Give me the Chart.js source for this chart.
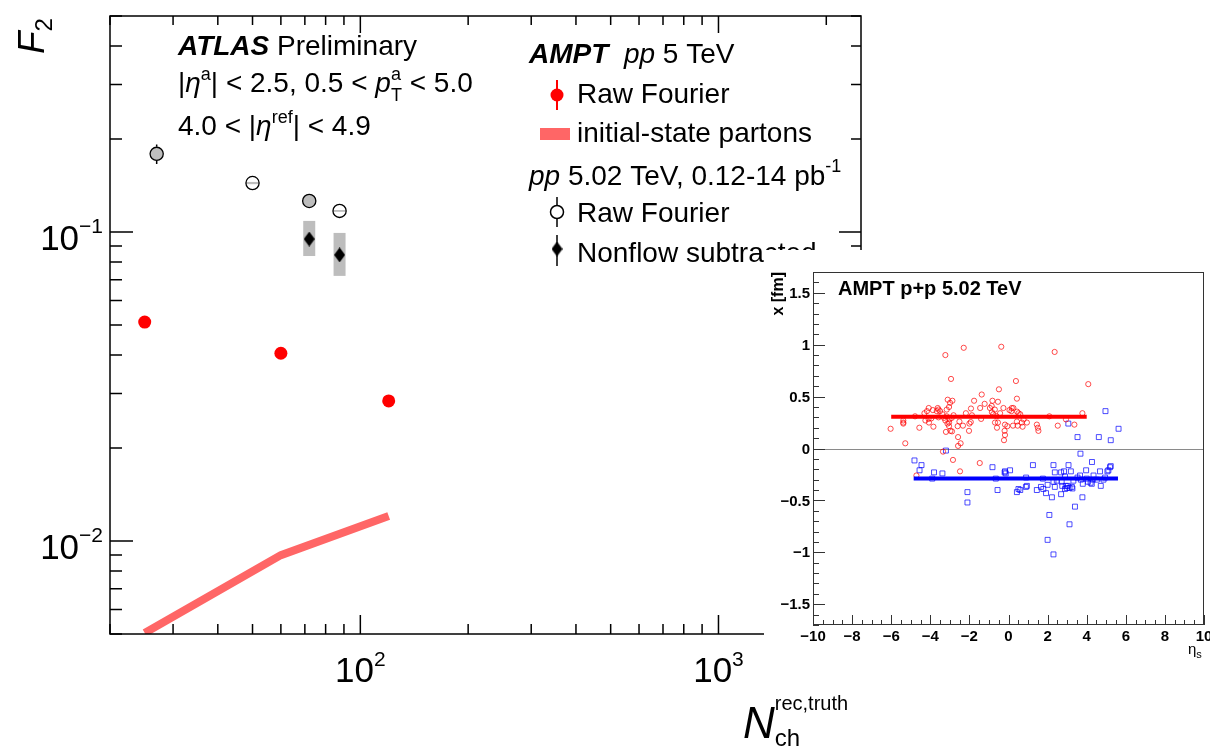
<!DOCTYPE html>
<html>
<head>
<meta charset="utf-8">
<script src="https://cdn.jsdelivr.net/npm/chart.js@4.4.0/dist/chart.umd.min.js"></script>
<style>
  body { margin: 0; background: #fff; }
  #wrap { position: relative; width: 1210px; height: 748px; overflow: hidden; }
  #main { position: absolute; left: 0; top: 0; }
  #inset { position: absolute; left: 764px; top: 250px; background: #fff; }
</style>
</head>
<body>
<div id="wrap">
  <canvas id="main" width="1210" height="748"></canvas>
  <canvas id="inset" width="446" height="420"></canvas>
</div>
<script>
// ---- main panel data (F2 vs Nch) ----
const amptN = [25, 60, 120];
const amptRaw = [0.0511, 0.0405, 0.0284];
const partonsF2 = [0.00504, 0.0090, 0.01205];

const atlasN = [27, 50, 72, 87.5];
const atlasRaw = [0.179, 0.144, 0.126, 0.117];
const atlasRawErrLo = [0.166, 0.142, 0.124, 0.1155];
const atlasRawErrHi = [0.192, 0.146, 0.128, 0.1185];
const atlasRawSysLo = [0.165, 0.1428, 0.118, 0.1162];
const atlasRawSysHi = [0.195, 0.1452, 0.134, 0.1178];

const atlasSubN = [72, 87.5];
const atlasSub = [0.0949, 0.0843];
const atlasSubSysLo = [0.0836, 0.0721];
const atlasSubSysHi = [0.1086, 0.0993];

const nchRange = [20, 2500];
const f2Range = [0.005, 0.5];
const xLabelTicks = [100, 1000];
const yLabelTicks = [0.01, 0.1];

// ---- inset data (x vs eta_s) ----
const redEta = [-6.03, -5.38, -5.38, -5.38, -5.28, -4.78, -4.71, -4.56, -4.30, -4.25,
  -4.17, -4.09, -4.08, -4.07, -3.95, -3.87, -3.84, -3.67, -3.62, -3.58, -3.58, -3.50,
  -3.38, -3.35, -3.30, -3.23, -3.23, -3.20, -3.16, -3.16, -3.12, -3.11, -3.04, -3.04,
  -3.04, -3.02, -2.99, -2.97, -2.94, -2.90, -2.89, -2.87, -2.84, -2.81, -2.60, -2.58,
  -2.58, -2.51, -2.48, -2.45, -2.33, -2.29, -2.18, -2.02, -2.00, -1.93, -1.92, -1.87,
  -1.76, -1.47, -1.45, -1.40, -1.37, -1.22, -0.95, -0.86, -0.85, -0.82, -0.78, -0.70,
  -0.69, -0.61, -0.59, -0.54, -0.54, -0.49, -0.43, -0.37, -0.26, -0.23, -0.20, -0.18,
  -0.18, -0.06, 0.05, 0.15, 0.17, 0.23, 0.25, 0.38, 0.43, 0.43, 0.44, 0.47, 0.51, 0.60,
  0.68, 0.72, 0.77, 0.94, 1.45, 1.50, 1.53, 2.09, 2.36, 2.52, 2.94, 3.37, 3.78, 4.08];
const redX = [0.19, 0.27, 0.25, 0.24, 0.05, 0.31, -0.26, 0.20, 0.34, 0.27,
  0.36, 0.285, 0.39, 0.25, 0.29, 0.37, 0.21, 0.36, 0.39, 0.375, 0.30, 0.36,
  0.33, -0.03, 0.295, 0.90, 0.27, 0.16, 0.375, 0.31, 0.24, 0.47, 0.40, 0.215,
  0.25, 0.28, 0.44, 0.17, 0.67, 0.295, 0.165, 0.46, -0.11, 0.32, 0.215, 0.11,
  0.025, 0.26, -0.22, 0.05, 0.22, 0.97, 0.34, 0.17, 0.24, 0.255, 0.385, 0.32,
  0.46, -0.14, 0.39, 0.285, 0.52, 0.43, 0.39, 0.41, 0.35, 0.46, 0.33, 0.375,
  0.25, 0.31, 0.20, 0.45, 0.25, 0.57, 0.34, 0.98, 0.39, 0.08, 0.17, 0.23,
  0.13, 0.215, 0.37, 0.36, 0.39, 0.22, 0.39, 0.65, 0.48, 0.26, 0.355, 0.22, 0.34, 0.33,
  0.25, 0.21, 0.28, 0.25, 0.23, 0.20, 0.17, 0.31, 0.93, 0.22, 0.28, 0.23, 0.34, 0.62];

const blueEta = [-4.81, -4.55, -4.45, -3.90, -3.81, -3.38, -3.20, -2.10, -2.10, -0.82,
  -0.65, -0.56, -0.20, -0.18, -0.14, 0.08, 0.43, 0.51, 0.60, 0.89, 0.90, 0.94, 1.25,
  1.45, 1.66, 1.76, 1.78, 1.92, 2.00, 2.00, 2.09, 2.22, 2.30, 2.30, 2.30, 2.37, 2.37,
  2.47, 2.69, 2.69, 2.72, 2.75, 2.84, 2.89, 2.89, 2.93, 2.98, 3.04, 3.06, 3.07, 3.12,
  3.12, 3.19, 3.24, 3.27, 3.32, 3.40, 3.53, 3.53, 3.66, 3.68, 3.70, 3.78, 3.80, 3.97,
  4.00, 4.06, 4.20, 4.26, 4.27, 4.31, 4.35, 4.52, 4.62, 4.68, 4.72, 4.86, 4.94, 4.96,
  5.06, 5.11, 5.19, 5.23, 5.23, 5.63];
const blueX = [-0.115, -0.21, -0.16, -0.29, -0.23, -0.24, -0.02, -0.42, -0.52, -0.18,
  -0.29, -0.40, -0.23, -0.22, -0.24, -0.21, -0.42, -0.39, -0.40, -0.37, -0.28, -0.36, -0.16,
  -0.40, -0.37, -0.29, -0.39, -0.43, -0.35, -0.88, -0.64, -0.47, -0.16, -0.32, -1.02, -0.23, -0.37,
  -0.31, -0.23, -0.44, -0.32, -0.36, -0.22, -0.27, -0.39, -0.36, -0.38, -0.36, 0.24, -0.16, -0.38,
  -0.73, -0.22, -0.37, -0.385, -0.31, -0.56, 0.11, -0.28, -0.26, -0.05, -0.30, -0.47, -0.34, -0.21,
  -0.29, -0.32, -0.33, -0.34, -0.13, -0.30, -0.26, -0.30, 0.11, -0.22, -0.36, -0.30, -0.28, 0.36,
  -0.22, -0.21, -0.18, -0.17, 0.08, 0.19];

const redMeanEta = [-6.0, 4.0];
const redMean = 0.305;
const blueMeanEta = [-4.85, 5.6];
const blueMean = -0.29;
const etaRange = [-10, 10];
const xfmRange = [-1.7, 1.7];
const xfmLabels = [-1.5, -1, -0.5, 0, 0.5, 1, 1.5];
const etaLabels = [-10, -8, -6, -4, -2, 0, 2, 4, 6, 8, 10];

const FONT = '"Liberation Sans", Arial, Helvetica, sans-serif';

// draw a run of text pieces (sizes, styles, raised/lowered)
function drawParts(ctx, x, y, parts, dryRun) {
  let cx = x;
  for (const p of parts) {
    ctx.font = `${p.f || ''} ${p.s}px ${FONT}`;
    if (!dryRun) ctx.fillText(p.t, cx, y + (p.dy || 0));
    if (!p.keep) cx += ctx.measureText(p.t).width;
  }
  return cx - x;
}

function powerLabel(exp, big, small, rise) {
  return [{ t: '10', s: big }, { t: exp, s: small, dy: -rise }];
}

function makeDiamond(w, h, color) {
  const c = document.createElement('canvas');
  c.width = w; c.height = h;
  const g = c.getContext('2d');
  g.fillStyle = color;
  g.beginPath();
  g.moveTo(w / 2, 0); g.lineTo(w, h / 2); g.lineTo(w / 2, h); g.lineTo(0, h / 2);
  g.closePath();
  g.fill();
  return c;
}
const diamondImg = makeDiamond(11, 15, '#000');

// ---- main panel decorations ----
const mainDecor = {
  id: 'mainDecor',
  beforeDatasetsDraw(chart) {
    const { ctx, scales: { x, y } } = chart;
    ctx.save();
    ctx.fillStyle = '#bdbdbd';
    // systematic boxes of the nonflow subtracted points
    for (let i = 0; i < atlasSubN.length; i++) {
      const px = x.getPixelForValue(atlasSubN[i]);
      const top = y.getPixelForValue(atlasSubSysHi[i]);
      const bot = y.getPixelForValue(atlasSubSysLo[i]);
      ctx.fillRect(px - 6, top, 12, bot - top);
    }
    // systematic boxes of raw points, seen through the open markers
    for (let i = 0; i < atlasN.length; i++) {
      const px = x.getPixelForValue(atlasN[i]);
      const py = y.getPixelForValue(atlasRaw[i]);
      const top = y.getPixelForValue(atlasRawSysHi[i]);
      const bot = y.getPixelForValue(atlasRawSysLo[i]);
      ctx.save();
      ctx.beginPath();
      ctx.arc(px, py, 6.6, 0, Math.PI * 2);
      ctx.clip();
      ctx.fillRect(px - 7, top, 14, bot - top);
      ctx.restore();
    }
    ctx.restore();
  },
  afterDatasetsDraw(chart) {
    const { ctx, scales: { x, y } } = chart;
    ctx.save();
    ctx.strokeStyle = '#000';
    ctx.lineWidth = 1.5;
    ctx.beginPath();
    for (let i = 0; i < atlasN.length; i++) {
      const px = x.getPixelForValue(atlasN[i]);
      const py = y.getPixelForValue(atlasRaw[i]);
      const hi = y.getPixelForValue(atlasRawErrHi[i]);
      const lo = y.getPixelForValue(atlasRawErrLo[i]);
      if (hi < py - 7) { ctx.moveTo(px, hi); ctx.lineTo(px, py - 7); }
      if (lo > py + 7) { ctx.moveTo(px, py + 7); ctx.lineTo(px, lo); }
    }
    ctx.stroke();
    ctx.restore();
  },
  afterDraw(chart) {
    const { ctx, chartArea: { left, right, top, bottom }, scales: { x, y } } = chart;
    ctx.save();
    ctx.strokeStyle = '#000';
    ctx.fillStyle = '#000';
    ctx.lineWidth = 1.5;
    ctx.strokeRect(left, top, right - left, bottom - top);

    // log ticks, ROOT style (inside, all four sides)
    ctx.beginPath();
    for (let d = -3; d <= -1; d++) {
      for (let m = 1; m <= 9; m++) {
        const v = m * Math.pow(10, d);
        if (v < f2Range[0] * 0.999 || v > f2Range[1] * 1.001) continue;
        const py = y.getPixelForValue(v);
        ctx.moveTo(left, py); ctx.lineTo(left + (m === 1 ? 23 : 12), py);
        ctx.moveTo(right, py); ctx.lineTo(right - (m === 1 ? 22 : 10), py);
      }
    }
    for (let d = 1; d <= 3; d++) {
      for (let m = 1; m <= 9; m++) {
        const v = m * Math.pow(10, d);
        if (v < nchRange[0] * 0.999 || v > nchRange[1] * 1.001) continue;
        const px = x.getPixelForValue(v);
        ctx.moveTo(px, bottom); ctx.lineTo(px, bottom - (m === 1 ? 19 : 10));
        ctx.moveTo(px, top); ctx.lineTo(px, top + (m === 1 ? 17 : 9));
      }
    }
    ctx.stroke();

    // tick labels
    ctx.textAlign = 'left';
    ctx.textBaseline = 'alphabetic';
    for (const v of yLabelTicks) {
      const parts = powerLabel('\u2212' + Math.round(-Math.log10(v)), 35, 21, 17);
      const w = drawParts(ctx, 0, 0, parts, true);
      drawParts(ctx, 103 - w, y.getPixelForValue(v) + 18, parts);
    }
    for (const v of xLabelTicks) {
      const parts = powerLabel(String(Math.round(Math.log10(v))), 35, 21, 16);
      const w = drawParts(ctx, 0, 0, parts, true);
      drawParts(ctx, x.getPixelForValue(v) - w / 2, 682, parts);
    }

    // axis titles
    ctx.save();
    ctx.translate(44, 54);
    ctx.rotate(-Math.PI / 2);
    drawParts(ctx, 0, 0, [{ t: 'F', s: 37, f: 'italic' }, { t: '2', s: 24, dy: 8 }]);
    ctx.restore();
    drawParts(ctx, 743, 738, [
      { t: 'N', s: 44, f: 'italic' },
      { t: 'rec,truth', s: 20, dy: -28, keep: true },
      { t: 'ch', s: 24, dy: 8 }
    ]);

    // left text block
    drawParts(ctx, 178, 55, [{ t: 'ATLAS', s: 28, f: 'bold italic' }, { t: ' Preliminary', s: 28 }]);
    drawParts(ctx, 178, 92, [
      { t: '|', s: 28 }, { t: '\u03b7', s: 28, f: 'italic' }, { t: 'a', s: 18, dy: -12 },
      { t: '| < 2.5, 0.5 < ', s: 28 }, { t: 'p', s: 28, f: 'italic' },
      { t: 'a', s: 18, dy: -12, keep: true }, { t: 'T', s: 18, dy: 9 }, { t: ' < 5.0', s: 28 }
    ]);
    drawParts(ctx, 178, 135, [
      { t: '4.0 < |', s: 28 }, { t: '\u03b7', s: 28, f: 'italic' }, { t: 'ref', s: 18, dy: -12 },
      { t: '| < 4.9', s: 28 }
    ]);

    // legend
    drawParts(ctx, 529, 63, [
      { t: 'AMPT', s: 28, f: 'bold italic' }, { t: '  pp', s: 28, f: 'italic' }, { t: ' 5 TeV', s: 28 }
    ]);
    ctx.lineWidth = 2;
    ctx.strokeStyle = '#ff0000';
    ctx.beginPath(); ctx.moveTo(557, 80); ctx.lineTo(557, 110); ctx.stroke();
    ctx.fillStyle = '#ff0000';
    ctx.beginPath(); ctx.arc(557, 95, 6.5, 0, Math.PI * 2); ctx.fill();
    ctx.fillStyle = '#000';
    drawParts(ctx, 577, 103, [{ t: 'Raw Fourier', s: 28 }]);
    ctx.fillStyle = '#ff6666';
    ctx.fillRect(540, 128, 30, 12);
    ctx.fillStyle = '#000';
    drawParts(ctx, 577, 142, [{ t: 'initial-state partons', s: 28 }]);
    drawParts(ctx, 529, 185, [
      { t: 'pp', s: 28, f: 'italic' }, { t: ' 5.02 TeV, 0.12-14 pb', s: 28 }, { t: '-1', s: 18, dy: -13 }
    ]);
    ctx.strokeStyle = '#000';
    ctx.lineWidth = 1.5;
    ctx.beginPath();
    ctx.moveTo(557, 197); ctx.lineTo(557, 205.5);
    ctx.moveTo(557, 218.5); ctx.lineTo(557, 227);
    ctx.stroke();
    ctx.beginPath(); ctx.arc(557, 212, 6.5, 0, Math.PI * 2); ctx.stroke();
    drawParts(ctx, 577, 222, [{ t: 'Raw Fourier', s: 28 }]);
    ctx.beginPath(); ctx.moveTo(557, 235); ctx.lineTo(557, 266); ctx.stroke();
    ctx.drawImage(diamondImg, 557 - 5.5, 249 - 7.5);
    drawParts(ctx, 577, 262, [{ t: 'Nonflow subtracted', s: 28 }]);
    ctx.restore();
  }
};

new Chart(document.getElementById('main'), {
  type: 'scatter',
  data: {
    datasets: [
      {
        label: 'AMPT raw Fourier',
        data: amptN.map((n, i) => ({ x: n, y: amptRaw[i] })),
        pointRadius: 6.5,
        backgroundColor: '#ff0000',
        borderWidth: 0
      },
      {
        label: 'Nonflow subtracted',
        data: atlasSubN.map((n, i) => ({ x: n, y: atlasSub[i] })),
        pointStyle: diamondImg
      },
      {
        label: 'ATLAS raw Fourier',
        data: atlasN.map((n, i) => ({ x: n, y: atlasRaw[i] })),
        pointRadius: 6.6,
        backgroundColor: 'rgba(0,0,0,0)',
        borderColor: '#000',
        borderWidth: 1.3
      },
      {
        type: 'line',
        label: 'initial-state partons',
        data: amptN.map((n, i) => ({ x: n, y: partonsF2[i] })),
        borderColor: '#ff6666',
        borderWidth: 8,
        pointRadius: 0,
        tension: 0,
        clip: 0
      }
    ]
  },
  options: {
    responsive: false,
    animation: false,
    layout: { padding: { left: 110, top: 16, right: 349, bottom: 114 } },
    plugins: { legend: { display: false }, tooltip: { enabled: false } },
    scales: {
      x: { type: 'logarithmic', min: nchRange[0], max: nchRange[1], display: false },
      y: { type: 'logarithmic', min: f2Range[0], max: f2Range[1], display: false }
    }
  },
  plugins: [mainDecor]
});

// ---- inset decorations ----
const insetDecor = {
  id: 'insetDecor',
  beforeDatasetsDraw(chart) {
    const { ctx, chartArea: { left, right }, scales: { y } } = chart;
    ctx.save();
    ctx.strokeStyle = '#8a8a8a';
    ctx.lineWidth = 1;
    const py = Math.round(y.getPixelForValue(0)) + 0.5;
    ctx.beginPath(); ctx.moveTo(left, py); ctx.lineTo(right, py); ctx.stroke();
    ctx.restore();
  },
  afterDraw(chart) {
    const { ctx, chartArea: { left, right, top, bottom }, scales: { x, y } } = chart;
    ctx.save();
    ctx.strokeStyle = '#333';
    ctx.lineWidth = 1;
    ctx.strokeRect(left + 0.5, top + 0.5, right - left - 1, bottom - top - 1);
    ctx.beginPath();
    for (let i = -17; i <= 17; i++) {
      const py = Math.round(y.getPixelForValue(i / 10)) + 0.5;
      ctx.moveTo(left, py); ctx.lineTo(left + (i % 5 === 0 ? 12 : 6), py);
    }
    for (let i = -20; i <= 20; i++) {
      const px = Math.round(x.getPixelForValue(i / 2)) + 0.5;
      ctx.moveTo(px, bottom); ctx.lineTo(px, bottom - (i % 4 === 0 ? 10 : 5));
    }
    ctx.stroke();

    ctx.fillStyle = '#000';
    ctx.font = `bold 15px ${FONT}`;
    ctx.textAlign = 'right';
    ctx.textBaseline = 'middle';
    for (const v of xfmLabels) {
      const s = v < 0 ? '\u2212' + String(-v) : String(v);
      ctx.fillText(s, left - 3, y.getPixelForValue(v) + 1);
    }
    ctx.textAlign = 'center';
    ctx.textBaseline = 'alphabetic';
    for (const v of etaLabels) {
      const s = v < 0 ? '\u2212' + String(-v) : String(v);
      ctx.fillText(s, x.getPixelForValue(v), 391);
    }

    ctx.textAlign = 'left';
    drawParts(ctx, 74, 45, [{ t: 'AMPT p+p 5.02 TeV', s: 20, f: 'bold' }]);
    ctx.save();
    ctx.translate(19, 22);
    ctx.rotate(-Math.PI / 2);
    ctx.textAlign = 'right';
    ctx.font = `bold 16px ${FONT}`;
    ctx.fillText('x [fm]', 0, 0);
    ctx.restore();
    drawParts(ctx, 424, 404, [{ t: '\u03b7', s: 15 }, { t: 's', s: 11, dy: 4 }]);
    ctx.restore();
  }
};

new Chart(document.getElementById('inset'), {
  type: 'scatter',
  data: {
    datasets: [
      {
        type: 'line',
        label: 'red mean',
        data: redMeanEta.map(e => ({ x: e, y: redMean })),
        borderColor: '#ff0000',
        borderWidth: 4,
        pointRadius: 0
      },
      {
        type: 'line',
        label: 'blue mean',
        data: blueMeanEta.map(e => ({ x: e, y: blueMean })),
        borderColor: '#0000ff',
        borderWidth: 4,
        pointRadius: 0
      },
      {
        label: 'red',
        data: redEta.map((e, i) => ({ x: e, y: redX[i] })),
        pointStyle: 'circle',
        pointRadius: 2.6,
        borderWidth: 1,
        borderColor: 'rgba(255,0,0,0.7)',
        backgroundColor: 'rgba(0,0,0,0)'
      },
      {
        label: 'blue',
        data: blueEta.map((e, i) => ({ x: e, y: blueX[i] })),
        pointStyle: 'rect',
        pointRadius: 3.5,
        borderWidth: 1,
        borderColor: 'rgba(0,0,255,0.7)',
        backgroundColor: 'rgba(0,0,0,0)'
      }
    ]
  },
  options: {
    responsive: false,
    animation: false,
    layout: { padding: { left: 49, top: 22, right: 6, bottom: 45 } },
    plugins: { legend: { display: false }, tooltip: { enabled: false } },
    scales: {
      x: { type: 'linear', min: etaRange[0], max: etaRange[1], display: false },
      y: { type: 'linear', min: xfmRange[0], max: xfmRange[1], display: false }
    }
  },
  plugins: [insetDecor]
});
</script>
</body>
</html>
